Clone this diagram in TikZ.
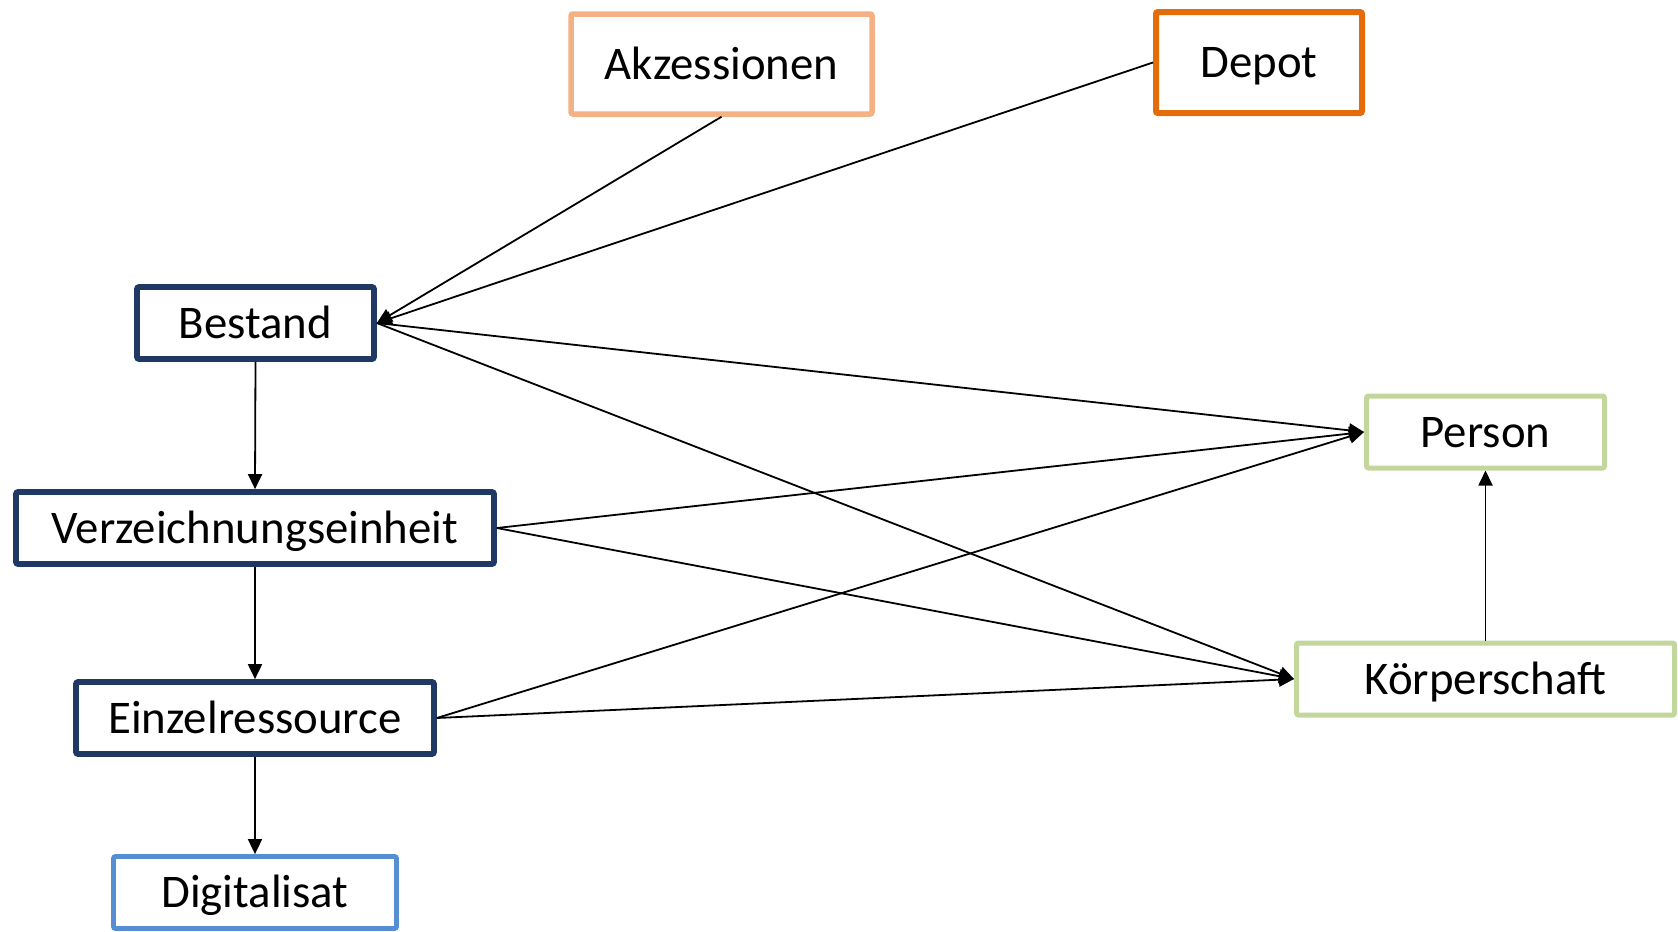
\documentclass[tikz,border=0pt]{standalone}
\usepackage{fontspec}
\setmainfont{Carlito}
\usetikzlibrary{arrows.meta}
\definecolor{navy}{HTML}{1F3864}
\definecolor{peach}{HTML}{F4B183}
\definecolor{rust}{HTML}{E46C0A}
\definecolor{sky}{HTML}{558ED5}
\definecolor{olive}{HTML}{C3D69B}
\tikzset{
  box/.style={draw, fill=white, rounded corners=1pt, inner sep=0pt, minimum height=36pt,
    text height=20pt, text depth=5pt, font=\fontsize{23.4}{28}\selectfont},
  unit/.style={box, draw=navy, line width=2.85pt},
  link/.style={line width=0.9pt, -{Triangle[length=7.5pt,width=7pt]}}
}
\begin{document}
\begin{tikzpicture}[x=0.5pt,y=-0.5pt]
  \useasboundingbox (0,0) rectangle (1678,932);
  % archive hierarchy
  \node[unit, minimum width=118.5pt] (bestand) at (255.5,323) {Bestand};
  \node[unit, minimum width=239pt] (vze) at (255,528) {Verzeichnungseinheit};
  \node[unit, minimum width=179pt] (einzel) at (255,718) {Einzelressource};
  \node[box, draw=sky, line width=2.4pt, minimum width=141.5pt] (digital) at (255,892.5) {Digitalisat};
  % sources
  \node[box, draw=peach, line width=2.75pt, minimum width=150.5pt, minimum height=50pt] (akz) at (721.5,64) {Akzessionen};
  \node[box, draw=rust, line width=3pt, minimum width=103pt, minimum height=50.5pt] (depot) at (1259,62.5) {Depot};
  % agents
  \node[box, draw=olive, line width=2.5pt, minimum width=119pt] (person) at (1485.5,432) {Person};
  \node[box, draw=olive, line width=2.5pt, minimum width=189pt] (koerper) at (1485.5,679) {Körperschaft};
  \draw[link] (akz.south) -- (bestand.east);
  \draw[link] (depot.west) -- (bestand.east);
  \draw[link] (bestand.south) -- (vze.north);
  \draw[link] (vze.south) -- (einzel.north);
  \draw[link] (einzel.south) -- (digital.north);
  \draw[link] (koerper.north) -- (person.south);
  \foreach \src in {bestand,vze,einzel}{
    \draw[link] (\src.east) -- (person.west);
    \draw[link] (\src.east) -- (koerper.west);
  }
\end{tikzpicture}
\end{document}
